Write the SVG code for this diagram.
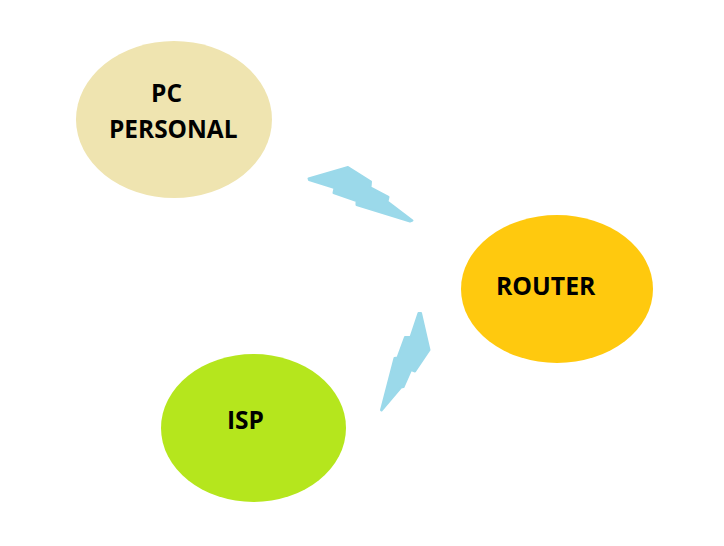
<svg xmlns="http://www.w3.org/2000/svg" width="724" height="546" viewBox="0 0 724 546">
<style>
.label{font-family:"Open Sans","Liberation Sans",sans-serif;font-weight:700;font-size:24.5px;fill:#000}
.bolt{fill:#9bd9ea;stroke:#9bd9ea;stroke-width:2;stroke-linejoin:round}
</style>
<rect width="724" height="546" fill="#fff"/>
<g id="connectors">
<polygon id="bolt-pc-router" class="bolt" points="308.500,178.500 348,167 371,181.500 370.500,187.500 388.500,197 387.500,201.500 412.500,220.500 410,221.500 356.500,205 356.500,201 333.500,193 334.500,188 309,180"/>
<polygon id="bolt-isp-router" class="bolt" points="418.500,313 421,313 429.500,350 415,371.500 411,370 403.500,387 401,387.500 381.500,410.500 381,410 394.500,358 397.500,357.500 405,337 408.500,337 410.500,337"/>
</g>
<g id="pc">
<ellipse cx="174" cy="119.500" rx="98" ry="78.500" fill="#efe4b0"/>
<text class="label" x="151" y="101.500" textLength="31" lengthAdjust="spacingAndGlyphs">PC</text>
<text class="label" x="109" y="137.500" textLength="128.500" lengthAdjust="spacingAndGlyphs">PERSONAL</text>
</g>
<g id="router">
<ellipse cx="557" cy="289" rx="96" ry="74" fill="#ffc90e"/>
<text class="label" x="496" y="295" textLength="99.500" lengthAdjust="spacingAndGlyphs">ROUTER</text>
</g>
<g id="isp">
<ellipse cx="253.500" cy="428" rx="92.500" ry="74" fill="#b5e61d"/>
<text class="label" x="227" y="429" textLength="37" lengthAdjust="spacingAndGlyphs">ISP</text>
</g>
</svg>
